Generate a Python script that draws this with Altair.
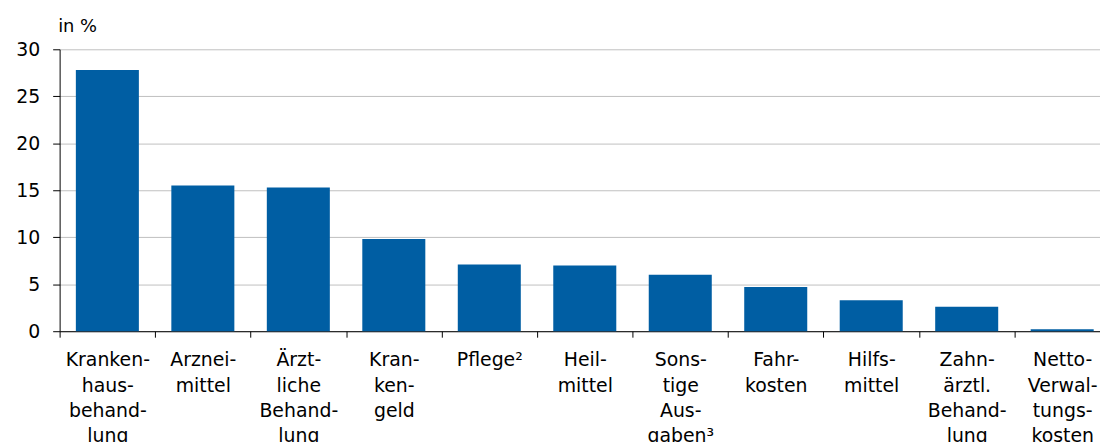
import altair as alt
import pandas as pd

categories = [
    "Kranken-|haus-|behand-|lung",
    "Arznei-|mittel",
    "Ärzt-|liche|Behand-|lung",
    "Kran-|ken-|geld",
    "Pflege²",
    "Heil-|mittel",
    "Sons-|tige|Aus-|gaben³",
    "Fahr-|kosten",
    "Hilfs-|mittel",
    "Zahn-|ärztl.|Behand-|lung",
    "Netto-|Verwal-|tungs-|kosten",
]
values = [27.8, 15.5, 15.3, 9.8, 7.1, 7.0, 6.0, 4.7, 3.3, 2.6, 0.2]

df = pd.DataFrame({"cat": categories, "val": values})

FONT = "DejaVu Sans"

chart = alt.Chart(df).mark_bar(
    color="#005EA3", width=alt.RelativeBandSize(0.66)
).encode(
    x=alt.X("cat:N", sort=categories, title=None,
            scale=alt.Scale(paddingInner=0, paddingOuter=0, range=[0, 1058]),
            axis=alt.Axis(labelAngle=0, labelExpr="split(datum.label, '|')",
                          labelFont=FONT, labelFontSize=19, labelColor="#000000",
                          labelLineHeight=25.5, labelPadding=14, labelBaseline="top",
                          tickBand="extent", tickSize=6, tickColor="#000000",
                          domainColor="#000000", grid=False, labelLimit=200)),
    y=alt.Y("val:Q", title="in %",
            scale=alt.Scale(domain=[0, 30], nice=False),
            axis=alt.Axis(values=[0, 5, 10, 15, 20, 25, 30], labelFont=FONT,
                          labelFontSize=19, labelColor="#000000", labelPadding=13,
                          tickSize=7, tickColor="#000000", domainColor="#000000",
                          gridColor="#C0C0C0", gridWidth=1,
                          titleAngle=0, titleX=-2, titleY=-18, titleAlign="left",
                          titleBaseline="alphabetic", titleFont=FONT,
                          titleFontSize=18, titleFontWeight="normal",
                          titleColor="#000000")),
).properties(
    width=1048, height=284,
    autosize=alt.AutoSizeParams(type="none"),
    padding={"left": 52, "top": 40, "right": 0, "bottom": 110},
).configure_view(stroke=None)

chart.save("out.html", embed_options={"renderer": "svg", "actions": False})
